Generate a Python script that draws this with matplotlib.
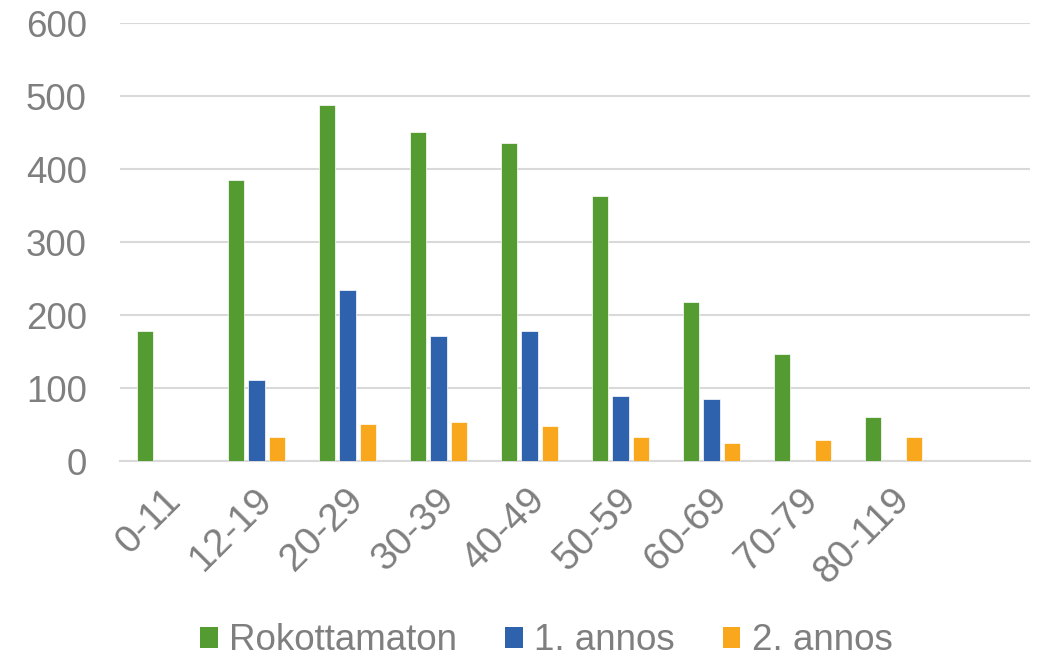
import numpy as np
import matplotlib
matplotlib.use("Agg")
import matplotlib.pyplot as plt
from matplotlib.patches import Patch
from matplotlib.transforms import ScaledTranslation

categories = ["0-11", "12-19", "20-29", "30-39", "40-49", "50-59", "60-69", "70-79", "80-119", ""]
rokottamaton = [178, 386, 488, 451, 436, 363, 218, 147, 61, 0]
annos1 = [0, 111, 235, 172, 178, 89, 85, 0, 0, 0]
annos2 = [0, 33, 51, 54, 48, 33, 25, 29, 33, 0]

series = [("Rokottamaton", rokottamaton, "#549B31"),
          ("1. annos", annos1, "#2F62AD"),
          ("2. annos", annos2, "#F9A71D")]

plt.rcParams['font.family'] = ['Liberation Sans', 'DejaVu Sans']
grey = "#7F7F7F"
fs = 26.5

fig = plt.figure(figsize=(10.51, 6.58), dpi=100)
ax = fig.add_axes([120/1051, 1-461.3/658, 910/1051, 438/658])

x = np.arange(len(categories))
w = 0.176
step = 0.22
for i, (name, vals, col) in enumerate(series):
    ax.bar(x + (i-1)*step, vals, width=w, color=col, edgecolor="white", linewidth=0.5, zorder=3)

ax.set_xlim(-0.5, len(categories)-0.5)
ax.set_ylim(0, 600)
ax.set_yticks(range(0, 601, 100))
ax.yaxis.grid(True, color="#D9D9D9", linewidth=1.5, zorder=0)
for s in ["top", "right", "left"]:
    ax.spines[s].set_visible(False)
ax.spines["bottom"].set_color("#D9D9D9")
ax.spines["bottom"].set_linewidth(1.5)
ax.tick_params(axis="y", length=0, pad=24, labelsize=fs, labelcolor=grey)
ax.tick_params(axis="x", length=0, pad=24, labelsize=28, labelcolor=grey)
ax.set_xticks(x)
ax.set_xticklabels(categories, rotation=45, ha="right", va="center", rotation_mode="anchor")
shift = ScaledTranslation(10/100, 0, fig.dpi_scale_trans)
for lab in ax.get_xticklabels():
    lab.set_transform(lab.get_transform() + shift)

handles = [Patch(facecolor=c, label=n) for n, _, c in series]
fig.legend(handles=handles, loc="center", bbox_to_anchor=(546.5/1051, 1-641/658),
           ncol=3, frameon=False, fontsize=fs, labelcolor=grey,
           handlelength=0.48, handleheight=0.48, handletextpad=0.32,
           columnspacing=1.29, borderpad=0, borderaxespad=0)

fig.savefig("out.png", dpi=100)
